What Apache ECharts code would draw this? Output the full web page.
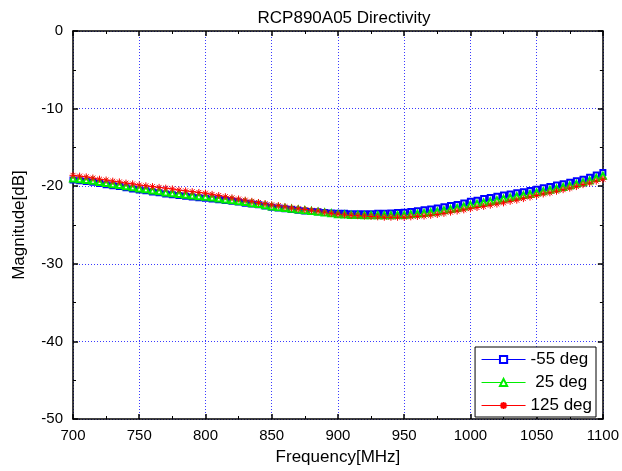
<!DOCTYPE html>
<html><head><meta charset="utf-8">
<script src="https://cdn.jsdelivr.net/npm/echarts@6/dist/echarts.min.js"></script>
<style>html,body{margin:0;padding:0;background:#fff}#c{width:622px;height:471px}</style>
</head><body><div id="c"></div>
<script>
var freqStart = 700, freqStep = 5;
var seriesNames = ['-55 deg', ' 25 deg', '125 deg'];
var seriesColors = ['#0000ff', '#00ee00', '#ff0000'];
var xTicks = [700,750,800,850,900,950,1000,1050,1100];
var yTicks = [0,-10,-20,-30,-40,-50];
var m55 = [-19.2,-19.3,-19.4,-19.5,-19.65,-19.8,-19.95,-20.05,-20.2,-20.35,
 -20.5,-20.6,-20.75,-20.85,-21.0,-21.1,-21.2,-21.3,-21.4,-21.5,
 -21.55,-21.65,-21.75,-21.85,-21.95,-22.05,-22.2,-22.3,-22.4,-22.55,
 -22.7,-22.8,-22.9,-23.0,-23.1,-23.2,-23.25,-23.3,-23.4,-23.45,
 -23.5,-23.5,-23.55,-23.55,-23.55,-23.55,-23.5,-23.5,-23.45,-23.4,
 -23.35,-23.25,-23.15,-23.05,-22.95,-22.8,-22.65,-22.5,-22.35,-22.15,
 -21.95,-21.8,-21.6,-21.45,-21.3,-21.15,-21.0,-20.85,-20.7,-20.55,
 -20.4,-20.2,-20.05,-19.85,-19.7,-19.5,-19.3,-19.1,-18.85,-18.55,-18.25];
var p25 = [-19.0,-19.1,-19.2,-19.3,-19.45,-19.6,-19.75,-19.85,-20.0,-20.15,
 -20.3,-20.4,-20.55,-20.65,-20.8,-20.9,-21.0,-21.1,-21.2,-21.3,
 -21.35,-21.45,-21.6,-21.7,-21.8,-21.95,-22.05,-22.2,-22.3,-22.45,
 -22.6,-22.7,-22.8,-22.9,-23.0,-23.1,-23.2,-23.3,-23.4,-23.5,
 -23.6,-23.65,-23.7,-23.7,-23.75,-23.75,-23.75,-23.75,-23.75,-23.7,
 -23.7,-23.6,-23.55,-23.45,-23.35,-23.25,-23.1,-22.95,-22.8,-22.6,
 -22.4,-22.25,-22.1,-21.95,-21.8,-21.6,-21.45,-21.3,-21.15,-21.0,
 -20.8,-20.65,-20.45,-20.3,-20.1,-19.9,-19.7,-19.5,-19.25,-18.95,-18.65];
var p125 = [-18.6,-18.7,-18.8,-18.95,-19.1,-19.2,-19.35,-19.45,-19.6,-19.7,
 -19.85,-19.95,-20.05,-20.15,-20.25,-20.35,-20.5,-20.6,-20.7,-20.8,
 -20.9,-21.05,-21.2,-21.35,-21.5,-21.65,-21.8,-21.95,-22.1,-22.25,
 -22.4,-22.5,-22.65,-22.8,-22.9,-23.0,-23.1,-23.2,-23.35,-23.5,
 -23.6,-23.7,-23.75,-23.8,-23.85,-23.9,-23.95,-24.0,-24.0,-24.0,
 -24.0,-23.95,-23.9,-23.85,-23.75,-23.65,-23.5,-23.35,-23.2,-23.05,
 -22.9,-22.75,-22.6,-22.45,-22.3,-22.15,-21.95,-21.8,-21.6,-21.4,
 -21.2,-21.0,-20.85,-20.65,-20.45,-20.25,-20.05,-19.8,-19.6,-19.35,-19.1];

function pairs(arr){ return arr.map(function(v,i){ return [freqStart + i*freqStep, v]; }); }
var FONT = 'Liberation Sans, Arial, sans-serif';
var star = 'path://M0,5L10,5M5,0L5,10M1.5,1.5L8.5,8.5M8.5,1.5L1.5,8.5';

var chart = echarts.init(document.getElementById('c'), null, {renderer:'canvas'});
function xAx(pos, show){
  return {type:'value', min:700, max:1100, interval:50, position:pos,
    axisLine:{show:true, onZero:false, lineStyle:{color:'#000', width:1.5}},
    axisTick:{show:true, inside:true, length:5, lineStyle:{color:'#000', width:1.5}},
    minorTick:{show:true, splitNumber:2, length:3, lineStyle:{color:'#000'}},
    axisLabel:{show:show, color:'#000', fontSize:15, fontFamily:FONT, margin:9,
      formatter:function(v){ return String(v); }},
    splitLine:{show:show, lineStyle:{color:'#3a3aff', type:[1,2], width:1}},
    name: show ? 'Frequency[MHz]' : '', nameLocation:'middle', nameGap:30,
    nameTextStyle:{color:'#000', fontSize:17, fontFamily:FONT}};
}
function yAx(pos, show){
  return {type:'value', min:-50, max:0, interval:10, position:pos,
    axisLine:{show:true, onZero:false, lineStyle:{color:'#000', width:1.5}},
    axisTick:{show:true, inside:true, length:5, lineStyle:{color:'#000', width:1.5}},
    minorTick:{show:true, splitNumber:2, length:3, lineStyle:{color:'#000'}},
    axisLabel:{show:show, color:'#000', fontSize:15, fontFamily:FONT, margin:10,
      formatter:function(v){ return String(v); }},
    splitLine:{show:show, lineStyle:{color:'#3a3aff', type:[1,2], width:1}},
    name: show ? 'Magnitude[dB]' : '', nameLocation:'middle', nameGap:45,
    nameTextStyle:{color:'#000', fontSize:17, fontFamily:FONT}};
}
function ser(name, data, color, symbol, size){
  return {name:name, type:'line', data:pairs(data), symbol:symbol, symbolSize:size,
    showSymbol:true, xAxisIndex:0, yAxisIndex:0, color:color,
    lineStyle:{color:color, width:1}, itemStyle:{color:color, borderColor:color, borderWidth:1},
    animation:false, z:3};
}
chart.setOption({
  animation:false,
  backgroundColor:'#fff',
  title:{text:'RCP890A05 Directivity', left:339, textAlign:'center', top:5,
    textStyle:{color:'#000', fontSize:17, fontWeight:'normal', fontFamily:FONT}},
  grid:{left:73, right:17, top:31, bottom:47},
  xAxis:[xAx('bottom', true), xAx('top', false)],
  yAxis:[yAx('left', true), yAx('right', false)],
  legend:{right:26, bottom:54, orient:'vertical', itemWidth:44, itemHeight:9, itemGap:6,
    backgroundColor:'#fff', borderColor:'#000', borderWidth:1, padding:[4,4,3,6],
    textStyle:{color:'#000', fontSize:17, fontFamily:FONT},
    data:seriesNames.map(function(n,i){
      return {name:n, lineStyle:{color:seriesColors[i], width:1}};
    })},
  series:[
    ser(seriesNames[0], m55, seriesColors[0], 'emptyRect', 5),
    ser(seriesNames[1], p25, seriesColors[1], 'emptyTriangle', 6),
    ser(seriesNames[2], p125, seriesColors[2], star, 7)
  ]
});
</script></body></html>
